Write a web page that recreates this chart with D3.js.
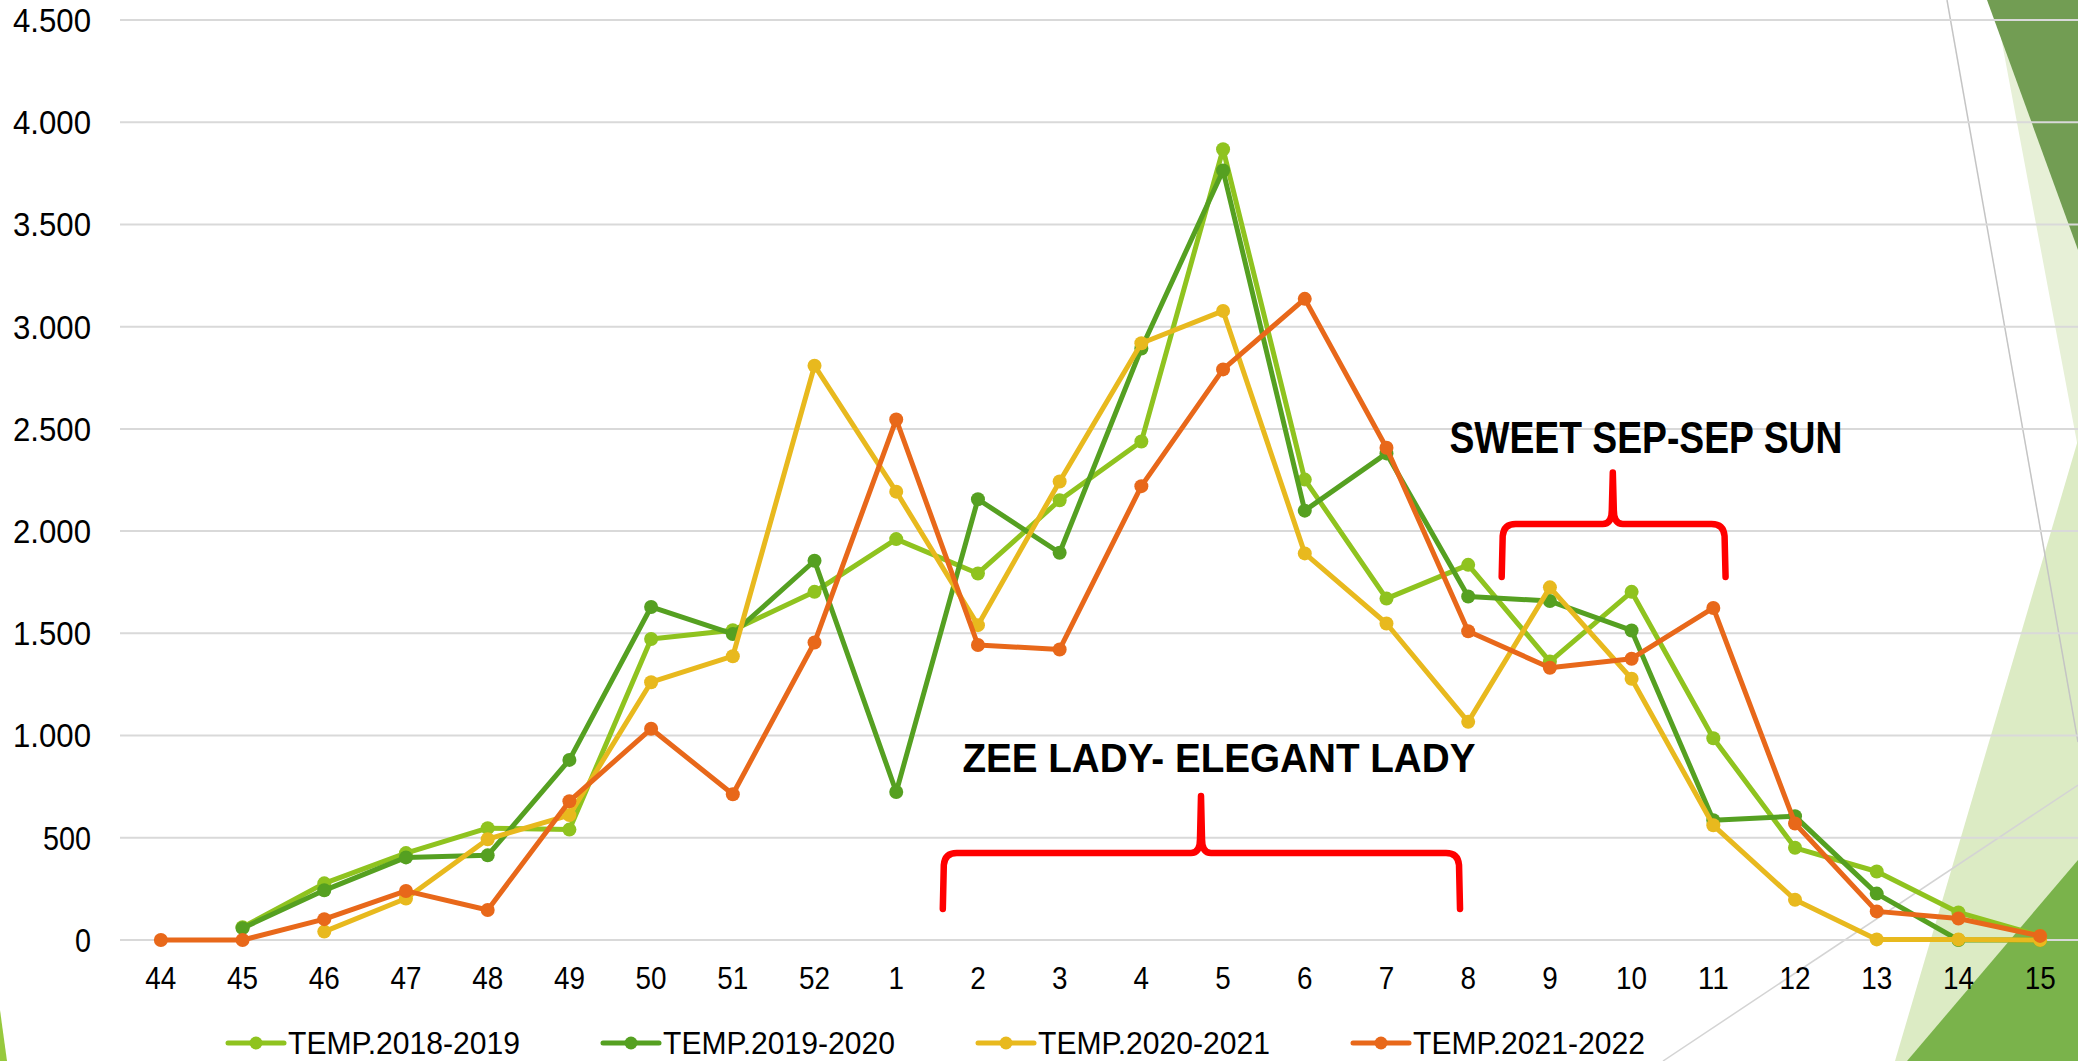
<!DOCTYPE html>
<html>
<head>
<meta charset="utf-8">
<script src="https://cdn.jsdelivr.net/npm/d3@7"></script>
<style>
  html, body { margin: 0; padding: 0; background: #fff; }
  svg { display: block; }
  text { font-family: "Liberation Sans", Arial, sans-serif; fill: #000; }
</style>
</head>
<body>
<div id="chart"></div>
<script>
// weeks of the season (x categories)
var weeks = ['44','45','46','47','48','49','50','51','52','1','2','3','4','5','6','7','8','9','10','11','12','13','14','15'];

// one array per season (null = no point)
var temp1819 = [null, 62, 277, 425, 547, 540, 1472, 1515, 1703, 1961, 1793, 2151, 2438, 3868, 2252, 1670, 1835, 1362, 1703, 987, 451, 335, 135, 20];
var temp1920 = [null, 58, 243, 404, 414, 881, 1629, 1497, 1855, 724, 2156, 1894, 2893, 3764, 2100, 2380, 1680, 1658, 1514, 586, 605, 227, 0, 0];
var temp2021 = [null, null, 41, 203, 493, 611, 1261, 1388, 2809, 2193, 1540, 2243, 2919, 3077, 1891, 1548, 1067, 1725, 1278, 561, 197, 3, 3, 0];
var temp2122 = [0, 0, 102, 240, 147, 679, 1033, 713, 1455, 2546, 1443, 1421, 2220, 2791, 3136, 2408, 1510, 1332, 1376, 1624, 570, 140, 105, 20];

var seriesNames = ['TEMP.2018-2019', 'TEMP.2019-2020', 'TEMP.2020-2021', 'TEMP.2021-2022'];
var seriesColors = ['#8fc31f', '#55a021', '#e8b91e', '#e8681a'];

var yTicks = [0, 500, 1000, 1500, 2000, 2500, 3000, 3500, 4000, 4500];

var width = 2078, height = 1061;

var svg = d3.select('#chart')
  .append('svg')
    .attr('width', width)
    .attr('height', height)
    .attr('viewBox', '0 0 ' + width + ' ' + height);

// slide decoration (theme shapes behind the chart)
var deco = svg.append('g').attr('class', 'deco');
deco.append('polygon').attr('points', '1994,0 2078,448 2078,0').attr('fill', '#e7f0d7');
deco.append('polygon').attr('points', '1987,0 2078,0 2078,250').attr('fill', '#729d53');
deco.append('polygon').attr('points', '2078,440 1895,1061 2078,1061').attr('fill', '#dcebc4');
deco.append('polygon').attr('points', '2078,860 1907,1061 2078,1061').attr('fill', '#7ab34b');
deco.append('polygon').attr('points', '0,1010 7,1061 0,1061').attr('fill', '#97c93d');
deco.append('line').attr('x1', 1947).attr('y1', 0).attr('x2', 2078).attr('y2', 742)
  .attr('stroke', '#c4c4c4').attr('stroke-width', 1.5);
deco.append('line').attr('x1', 1663).attr('y1', 1061).attr('x2', 2078).attr('y2', 785)
  .attr('stroke', '#d4d4d4').attr('stroke-width', 1.5);

// scales
var x = d3.scaleBand().domain(weeks).range([120, 2081]);
var bw = x.bandwidth();
var cx = function(w){ return x(w) + bw / 2; };
var y = d3.scaleLinear().domain([0, 4500]).range([940, 20]);
// fractional category position, used for the hand-drawn annotations
var xi = d3.scaleLinear().domain([0, weeks.length - 1]).range([cx(weeks[0]), cx(weeks[weeks.length - 1])]);

// gridlines
svg.append('g').selectAll('line')
  .data(yTicks).enter()
  .append('line')
    .attr('x1', x.range()[0])
    .attr('x2', width)
    .attr('y1', function(d){ return y(d); })
    .attr('y2', function(d){ return y(d); })
    .attr('stroke', '#d9d9d9')
    .attr('stroke-width', 2);

// narrow-looking labels: a tall font squeezed to the width of the original
var squeeze = function(s, per){
  return s.replace(/\./g, '').length * per + (s.indexOf('.') >= 0 ? 14 : 0);
};

// y axis labels (thousands with a dot)
var fmt = function(d){ return d3.format(',')(d).replace(/,/g, '.'); };
svg.append('g').selectAll('text')
  .data(yTicks).enter()
  .append('text')
    .attr('x', 91)
    .attr('y', function(d){ return y(d); })
    .attr('dy', '0.36em')
    .attr('text-anchor', 'end')
    .style('font-size', '33px')
    .attr('textLength', function(d){ return squeeze(fmt(d), 16); })
    .attr('lengthAdjust', 'spacingAndGlyphs')
    .text(fmt);

// x axis labels
svg.append('g').selectAll('text')
  .data(weeks).enter()
  .append('text')
    .attr('x', cx)
    .attr('y', 989)
    .attr('text-anchor', 'middle')
    .style('font-size', '31px')
    .attr('textLength', function(d){ return squeeze(d, 15.5); })
    .attr('lengthAdjust', 'spacingAndGlyphs')
    .text(function(d){ return d; });

// lines and dots
var allSeries = [temp1819, temp1920, temp2021, temp2122];
var line = d3.line()
  .defined(function(d){ return d != null; })
  .x(function(d, i){ return cx(weeks[i]); })
  .y(function(d){ return y(d); });

allSeries.forEach(function(values, s){
  var g = svg.append('g').attr('class', 'series');
  g.append('path')
    .attr('d', line(values))
    .attr('fill', 'none')
    .attr('stroke', seriesColors[s])
    .attr('stroke-width', 5)
    .attr('stroke-linejoin', 'round');
  g.selectAll('circle')
    .data(values.map(function(v, i){ return {v: v, w: weeks[i]}; }).filter(function(d){ return d.v != null; }))
    .enter().append('circle')
      .attr('cx', function(d){ return cx(d.w); })
      .attr('cy', function(d){ return y(d.v); })
      .attr('r', 7)
      .attr('fill', seriesColors[s]);
});

// legend
var legend = svg.append('g').selectAll('g')
  .data(seriesNames).enter()
  .append('g')
    .attr('transform', function(d, i){ return 'translate(' + (228 + i * 375) + ',1043)'; });
legend.append('line')
  .attr('x1', 0).attr('x2', 56)
  .attr('stroke', function(d, i){ return seriesColors[i]; })
  .attr('stroke-width', 5)
  .attr('stroke-linecap', 'round');
legend.append('circle')
  .attr('cx', 28).attr('r', 6.5)
  .attr('fill', function(d, i){ return seriesColors[i]; });
legend.append('text')
  .attr('x', 60).attr('y', 11)
  .style('font-size', '31.5px')
  .attr('textLength', 232)
  .attr('lengthAdjust', 'spacingAndGlyphs')
  .text(function(d){ return d; });

// annotations: braces in category index / value units
var braces = [
  {from: 9.57, to: 15.9, tip: 12.73, top: 426, end: 152, peak: 704},
  {from: 16.41, to: 19.15, tip: 17.77, top: 2035, end: 1776, peak: 2287}
];
var labels = [
  {text: 'ZEE LADY- ELEGANT LADY', at: 9.81, v: 822, size: 41, len: 513},
  {text: 'SWEET SEP-SEP SUN', at: 15.77, v: 2383, size: 44, len: 393}
];

function bracePath(b){
  var x0 = xi(b.from), x1 = xi(b.to), xt = xi(b.tip);
  var yh = y(b.top), yb = y(b.end), yt = y(b.peak);
  var r = 12;
  return 'M' + x0 + ',' + yb +
    'L' + (x0 + 1) + ',' + (yh + r) +
    'Q' + (x0 + 2) + ',' + yh + ' ' + (x0 + r + 2) + ',' + yh +
    'L' + (xt - 10) + ',' + yh +
    'Q' + (xt - 1) + ',' + yh + ' ' + (xt - 1) + ',' + (yh - 14) +
    'L' + xt + ',' + yt +
    'L' + (xt + 1) + ',' + (yh - 14) +
    'Q' + (xt + 1) + ',' + yh + ' ' + (xt + 10) + ',' + yh +
    'L' + (x1 - r - 2) + ',' + yh +
    'Q' + (x1 - 2) + ',' + yh + ' ' + (x1 - 1) + ',' + (yh + r) +
    'L' + x1 + ',' + yb;
}

svg.append('g').selectAll('path')
  .data(braces).enter()
  .append('path')
    .attr('d', bracePath)
    .attr('fill', 'none')
    .attr('stroke', '#ff0000')
    .attr('stroke-width', 6.5)
    .attr('stroke-linecap', 'round')
    .attr('stroke-linejoin', 'round');

svg.append('g').selectAll('text')
  .data(labels).enter()
  .append('text')
    .attr('x', function(d){ return xi(d.at); })
    .attr('y', function(d){ return y(d.v); })
    .attr('textLength', function(d){ return d.len; })
    .attr('lengthAdjust', 'spacingAndGlyphs')
    .style('font-size', function(d){ return d.size + 'px'; })
    .style('font-weight', 'bold')
    .text(function(d){ return d.text; });
</script>
</body>
</html>
